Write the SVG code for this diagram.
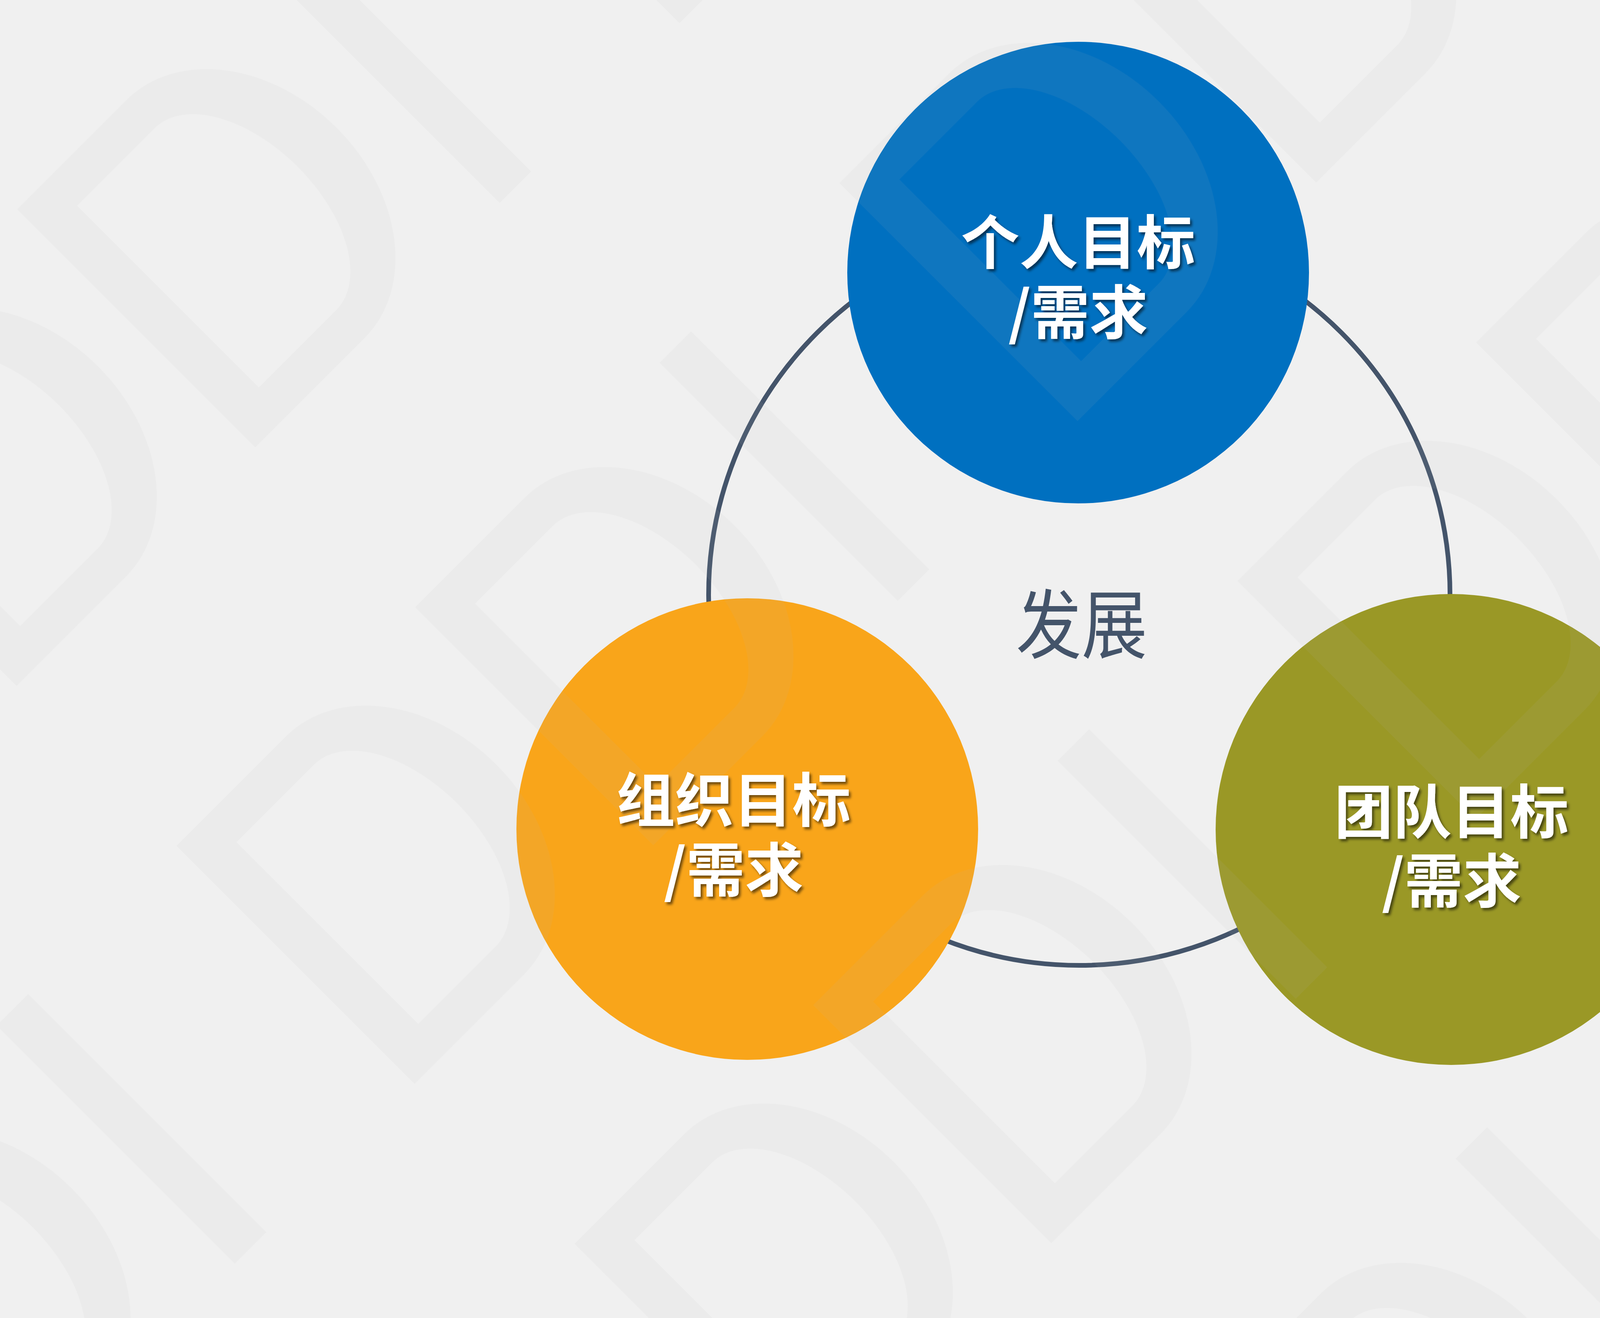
<svg xmlns="http://www.w3.org/2000/svg" xmlns:xlink="http://www.w3.org/1999/xlink" width="6000" height="3375" viewBox="0 0 6000 3375">
  <style>
    .ring { fill: none; stroke: #44546A; stroke-width: 12; }
    .label { font-family: "Noto Sans CJK SC", "Microsoft YaHei", sans-serif; font-weight: 700; font-size: 150px; fill: #FFFFFF; text-anchor: middle; filter: url(#sh); }
    .center { font-family: "Noto Sans CJK SC", sans-serif; font-weight: 400; font-size: 168px; fill: #44546A; text-anchor: middle; }
    .wmshape { fill: #b4b4b4; fill-rule: evenodd; }
  </style>
  <defs>
    <filter id="sh" x="-10%" y="-20%" width="130%" height="150%">
      <feDropShadow dx="5" dy="6" stdDeviation="3" flood-color="#000000" flood-opacity="0.55"/>
    </filter>
    <path id="dshape" class="wmshape" d="M410,848 L410,452 A431,330 0 0 1 1272,452 L1272,848 Z M512,733 L512,452 A329,189 0 0 1 1170,452 L1170,733 Z"/>
    <pattern id="wm" patternUnits="userSpaceOnUse" x="0" y="1900" width="1441" height="2400" patternTransform="rotate(45)">
      <use xlink:href="#dshape"/>
      <use xlink:href="#dshape" y="864"/>
      <rect class="wmshape" x="410" y="2249" width="862" height="114"/>
    </pattern>
  </defs>

  <rect id="background" x="0" y="0" width="6000" height="3375" fill="#F0F0F0"/>

  <g id="connectors">
    <circle class="ring" cx="2763" cy="1523" r="949"/>
  </g>

  <g id="node-personal">
    <circle cx="2760" cy="698" r="591" fill="#0070C0"/>
  </g>
  <g id="node-org">
    <circle cx="1913" cy="2123" r="591" fill="#F9A51A"/>
  </g>
  <g id="node-team">
    <circle cx="3715" cy="2124" r="603" fill="#9A9826"/>
  </g>

  <rect id="watermark" x="0" y="0" width="6000" height="3375" fill="url(#wm)" opacity="0.083"/>

  <g id="labels">
    <text id="label-personal" class="label"><tspan x="2760" y="676">个人目标</tspan><tspan x="2760" y="855">/需求</tspan></text>
    <text id="label-org" class="label"><tspan x="1878" y="2104">组织目标</tspan><tspan x="1878" y="2283">/需求</tspan></text>
    <text id="label-team" class="label"><tspan x="3716" y="2134">团队目标</tspan><tspan x="3716" y="2311">/需求</tspan></text>
    <text id="label-center" class="center" transform="translate(2769,1671) scale(1,1.15)" x="0" y="0">发展</text>
  </g>
</svg>
